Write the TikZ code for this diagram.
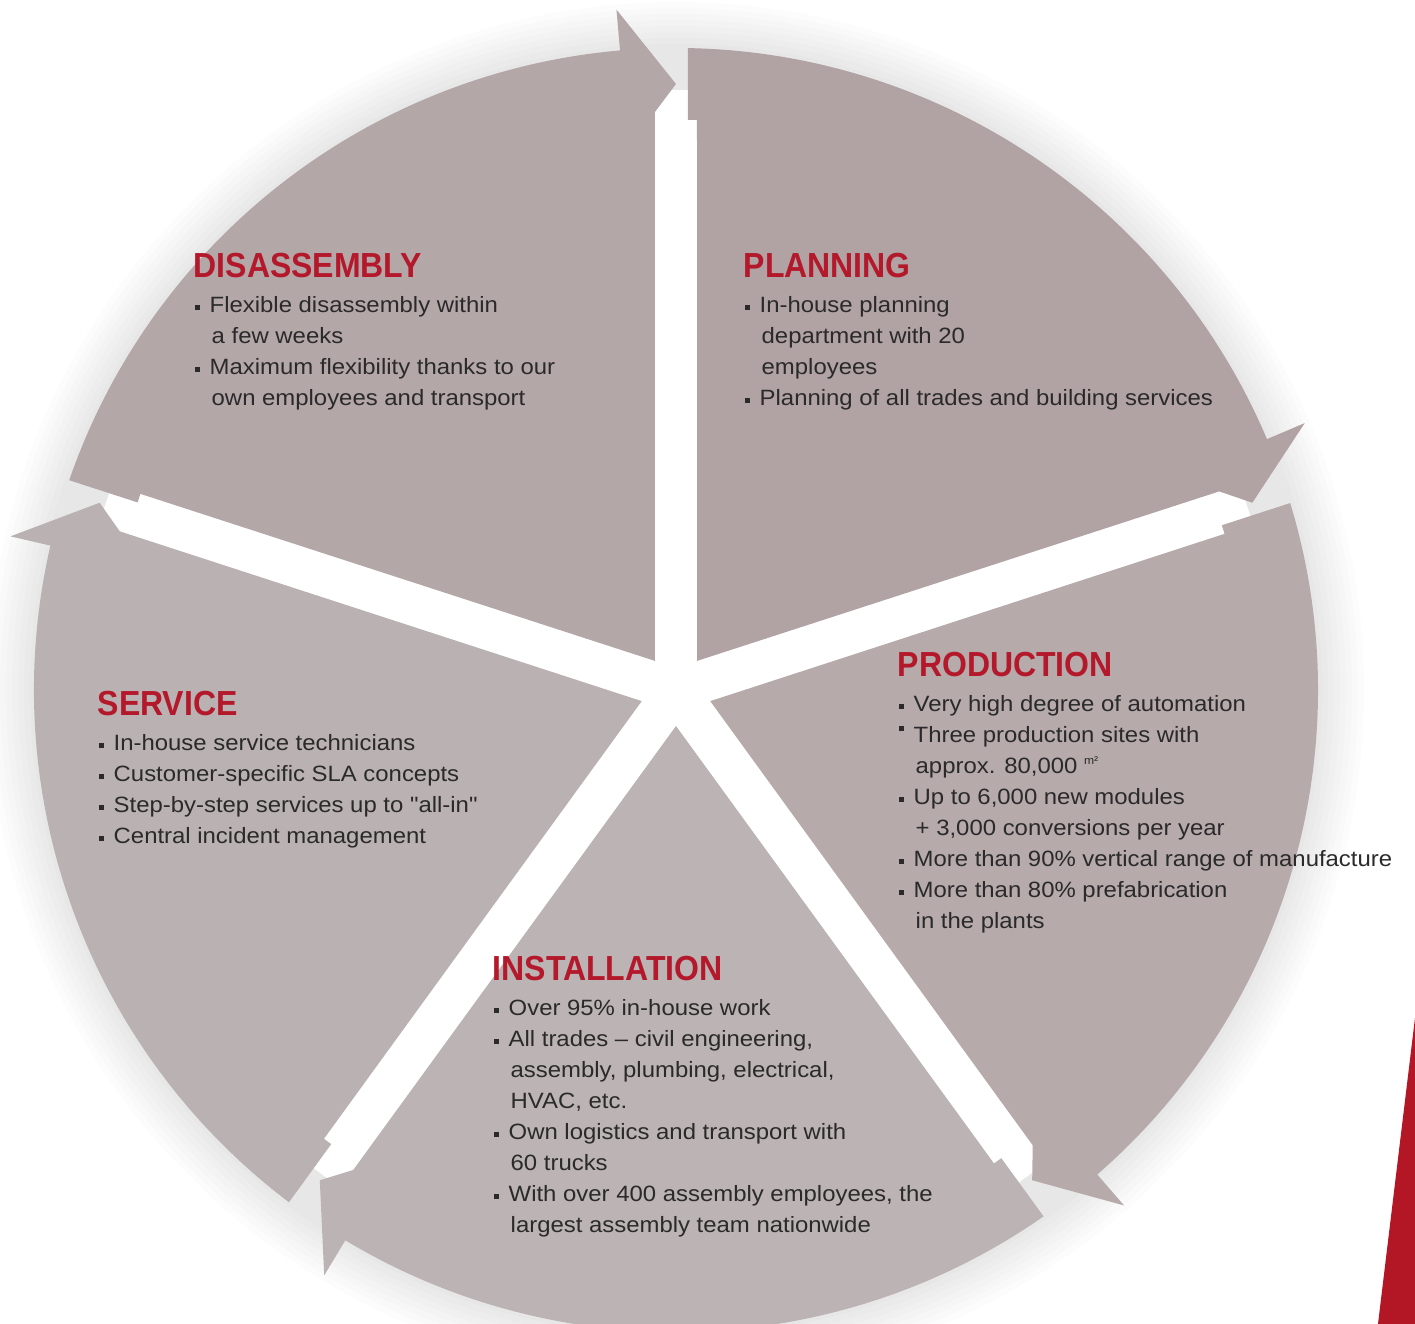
\documentclass[tikz,border=0pt]{standalone}
\usepackage{fontspec}
\setmainfont{Liberation Sans}
\newfontface\ttlface[FakeStretch=0.92]{Liberation Sans Bold}
\newfontface\txtface[FakeStretch=1.08]{Liberation Sans}
\usetikzlibrary{calc,positioning}
\definecolor{cyclered}{HTML}{B4182B}
\definecolor{brandred}{HTML}{B31726}
\definecolor{bodygray}{HTML}{2A2A2A}
\definecolor{segdis}{HTML}{B4A7A8}
\definecolor{segpla}{HTML}{B1A2A3}
\definecolor{segpro}{HTML}{B6AAAB}
\definecolor{segins}{HTML}{BBB3B4}
\definecolor{segser}{HTML}{B9B1B2}
\newcommand{\bitem}{\makebox[1.5mm][l]{\rule[0.25ex]{0.55mm}{0.55mm}}}
\newcommand{\bitemhi}{\makebox[1.5mm][l]{\rule[1.0ex]{0.55mm}{0.55mm}}}
\newcommand{\cont}{\hspace*{1.7mm}}
\newcommand{\sqm}{{\fontsize{3.2pt}{4pt}\selectfont\raisebox{0.9mm}{m²}}}

\begin{document}
\begin{tikzpicture}[
  x=0.1mm, y=0.1mm,
  ttl/.style={anchor=base west, inner sep=0pt, text=cyclered,
              font=\fontsize{9.9pt}{11pt}\ttlface},
  txt/.style={anchor=base west, inner sep=0pt, text=bodygray,
              font=\fontsize{6.3pt}{8.8pt}\txtface},
]
\useasboundingbox (-676,-634) rectangle (739,690);

% soft shadow round the wheel
\foreach \rad in {646,652,...,688}
  \fill[black, opacity=0.012, even odd rule] (0,0) circle[radius=\rad] (0,0) circle[radius=600];

% five arrow segments: tail angle / colour
\foreach \angT/\col in {162/segdis, 90/segpla, 18/segpro, -54/segins, -126/segser}{
  \pgfmathsetmacro\angH{\angT-72}
  \fill[\col] (\angT-36:36)
    -- ($(\angT:570)+(\angT-90:21)$)
    -- ($(\angT:570)+(\angT-90:12)$)
    -- ($(\angT:641.9)+(\angT-90:12)$)
    arc[start angle=\angT-1.07, end angle=\angH+5, radius=642]
    -- (\angH+5:683)
    -- (\angH:606)
    -- ($(\angH:578)+(\angH+90:21)$)
    -- cycle;
}

% red corner
\fill[brandred] (739,-328) -- (702,-634) -- (739,-634) -- cycle;

% disassembly
\node[ttl] (dis) at (-483,412) {DISASSEMBLY};
\foreach \ln [count=\i from 0] in {{\bitem Flexible disassembly within},{\cont a few weeks},
    {\bitem Maximum flexibility thanks to our},{\cont own employees and transport}}
  \node[txt] (dis-\i) at ($(dis.base west)+(1,-35-31*\i)$) {\ln};

% planning
\node[ttl] (pla) at (67,412) {PLANNING};
\foreach \ln [count=\i from 0] in {{\bitem In-house planning},{\cont department with 20},
    {\cont employees},{\bitem Planning of all trades and building services}}
  \node[txt] (pla-\i) at ($(pla.base west)+(1,-35-31*\i)$) {\ln};

% production
\node[ttl] (pro) at (221,13) {PRODUCTION};
\foreach \ln [count=\i from 0] in {{\bitem Very high degree of automation},
    {\bitemhi Three production sites with},{\cont approx. 80,000 \sqm},
    {\bitem Up to 6,000 new modules},{\cont + 3,000 conversions per year},
    {\bitem More than 90\% vertical range of manufacture},
    {\bitem More than 80\% prefabrication},{\cont in the plants}}
  \node[txt] (pro-\i) at ($(pro.base west)+(1,-35-31*\i)$) {\ln};

% service
\node[ttl] (ser) at (-579,-26) {SERVICE};
\foreach \ln [count=\i from 0] in {{\bitem In-house service technicians},
    {\bitem Customer-specific SLA concepts},{\bitem Step-by-step services up to "all-in"},
    {\bitem Central incident management}}
  \node[txt] (ser-\i) at ($(ser.base west)+(1,-35-31*\i)$) {\ln};

% installation
\node[ttl] (ins) at (-184,-291) {INSTALLATION};
\foreach \ln [count=\i from 0] in {{\bitem Over 95\% in-house work},
    {\bitem All trades – civil engineering,},{\cont assembly, plumbing, electrical,},
    {\cont HVAC, etc.},{\bitem Own logistics and transport with},{\cont 60 trucks},
    {\bitem With over 400 assembly employees, the},{\cont largest assembly team nationwide}}
  \node[txt] (ins-\i) at ($(ins.base west)+(1,-35-31*\i)$) {\ln};

\end{tikzpicture}
\end{document}
